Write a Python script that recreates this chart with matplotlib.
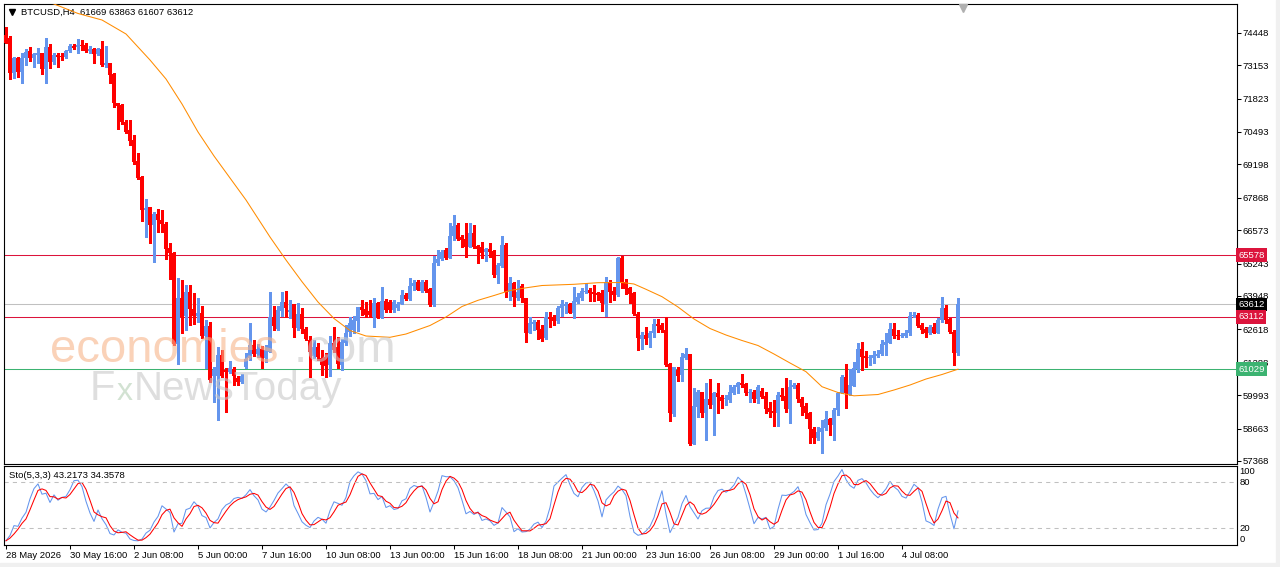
import numpy as np
import pandas as pd
import matplotlib
matplotlib.use("Agg")
import matplotlib.pyplot as plt
import matplotlib.transforms as mtrans
from matplotlib.patches import Rectangle

plt.rcParams["font.family"] = ["Liberation Sans", "DejaVu Sans"]

# BTCUSD H4 candles, 28 May 2026 00:00 .. 5 Jul 2026 16:00
opens = [74356, 74225, 72853, 73427, 72893, 73427, 73718, 73451, 73559, 73626,
         73000, 73866, 73291, 73559, 73531, 73491, 73730, 73918, 73890, 73957,
         73957, 73730, 73798, 73587, 73798, 73160, 73228, 72789, 71632, 71565,
         70899, 70568, 70169, 69331, 68705, 67377, 67485, 66779, 67218, 66978,
         66819, 65850, 65674, 62033, 63880, 63150, 64095, 63429, 63150, 63270,
         62352, 62751, 60757, 60757, 61595, 60996, 60928, 61024, 60689, 60530,
         61116, 61475, 61993, 61634, 61834, 61475, 61726, 63110, 62632, 63349,
         63708, 63309, 63628, 62671, 63230, 62632, 62193, 61555, 61913, 61475,
         61515, 61196, 62073, 61913, 61196, 62073, 62512, 62592, 62950, 63489,
         63429, 63361, 63122, 63656, 63058, 63760, 63708, 63389, 63469, 63628,
         63987, 63828, 64346, 64505, 64159, 64518, 64215, 63589, 65252, 65411,
         65782, 65451, 66340, 66779, 66289, 66209, 65914, 66448, 65942, 65914,
         65690, 65822, 65754, 64785, 65156, 65981, 64119, 64454, 63856, 64346,
         63856, 62484, 62831, 62923, 62620, 62261, 63122, 63110, 62962, 63457,
         63549, 63628, 63282, 63720, 63856, 64119, 64187, 64119, 64055, 64079,
         63628, 64518, 64159, 63987, 65475, 64518, 64255, 64079, 63218, 62233,
         62392, 62261, 62484, 62831, 62791, 62592, 61236, 59242, 60996, 60797,
         61463, 61634, 58045, 59533, 60131, 59294, 59828, 59601, 60091, 59932,
         59828, 59800, 60091, 60307, 60490, 60438, 60091, 60131, 59828, 60171,
         59960, 59469, 59373, 59294, 60000, 59960, 59441, 60307, 60398, 59828,
         59561, 59294, 58631, 58272, 58536, 58671, 59030, 58803, 59401, 60067,
         60705, 60039, 60358, 61024, 61822, 61555, 61463, 61463, 61555, 61634,
         61993, 62085, 62620, 62392, 62352, 62352, 62460, 63150, 63190, 62791,
         62620, 62484, 62699, 62484, 62990, 63457, 63018, 62524, 61669]
highs = [74663, 74316, 73491, 73491, 73626, 73786, 73866, 73626, 73826, 73638,
         74225, 73997, 73626, 73650, 73650, 73758, 73997, 73997, 74185, 74157,
         74025, 73918, 73826, 73826, 74117, 73918, 73252, 72829, 71632, 71604,
         70966, 70966, 70368, 69638, 68733, 67816, 67509, 67285, 67405, 67377,
         66911, 66073, 65714, 64677, 64586, 64386, 64386, 64055, 63856, 63549,
         62990, 62911, 61128, 61926, 61794, 61076, 61367, 61128, 60757, 60837,
         61674, 62871, 62193, 62033, 61954, 61993, 64119, 63549, 63549, 64107,
         64147, 63788, 63628, 63668, 63469, 62711, 62352, 62193, 62073, 61794,
         61674, 62352, 62711, 62313, 62233, 62791, 63110, 63150, 63521, 63788,
         63708, 63788, 63856, 63720, 64318, 63828, 63788, 63788, 63720, 64187,
         64067, 64653, 64586, 64586, 64586, 64586, 64255, 65543, 65782, 65782,
         65874, 66847, 67178, 66847, 66380, 66847, 66847, 66779, 65981, 66113,
         65874, 66061, 65782, 65276, 66340, 66049, 64717, 64518, 64586, 64426,
         63856, 63122, 62990, 62990, 62791, 63321, 63321, 63190, 63549, 63788,
         63720, 63680, 64294, 64055, 64255, 64454, 64255, 64386, 64119, 64187,
         64717, 64586, 64294, 65515, 65543, 64613, 64318, 64119, 63321, 62524,
         62723, 62563, 63018, 63018, 62883, 63098, 61264, 61128, 61104, 61686,
         61862, 61634, 60266, 60199, 60131, 60490, 60625, 60131, 60490, 60000,
         60000, 60398, 60398, 60530, 60825, 60490, 60227, 60199, 60398, 60266,
         60131, 59732, 59800, 60131, 60266, 60665, 60598, 60466, 60466, 59932,
         59668, 59334, 58735, 58735, 59002, 59373, 59070, 59469, 60131, 60797,
         61236, 61024, 61328, 62061, 62125, 61766, 61595, 61766, 61794, 62193,
         62460, 62859, 62859, 62592, 62460, 62592, 63321, 63321, 63257, 62883,
         62723, 62791, 62859, 63058, 63920, 63589, 63058, 62592, 63863]
lows = [74025, 72590, 72629, 72669, 72454, 73160, 73331, 73068, 73252, 72789,
        72430, 73052, 73188, 73092, 73359, 73451, 73690, 73786, 73650, 73758,
        73666, 73626, 73252, 73559, 73120, 73092, 72454, 71473, 70595, 70807,
        70436, 69969, 69212, 68625, 66950, 66312, 66073, 65315, 66512, 66512,
        65423, 64625, 61993, 61236, 62472, 62592, 62791, 62831, 62923, 62273,
        61076, 60518, 59732, 59002, 60717, 59333, 60865, 60398, 60398, 60478,
        61076, 61395, 61555, 61515, 61076, 61315, 61714, 62592, 62592, 63150,
        63122, 63070, 62325, 62592, 62472, 62193, 60729, 61475, 61395, 60797,
        60717, 60757, 61714, 61076, 60996, 61993, 62352, 62472, 62552, 63190,
        63110, 63122, 62723, 63058, 63058, 63321, 63309, 63309, 63389, 63616,
        63788, 63788, 64187, 64187, 64119, 64119, 63549, 63549, 65184, 65383,
        65411, 65451, 66181, 66181, 65914, 65515, 65914, 65850, 65252, 65451,
        65355, 65515, 64717, 64454, 65116, 63920, 63788, 63549, 63788, 63708,
        62125, 62460, 62592, 62221, 62165, 62221, 62723, 62791, 62883, 63150,
        63282, 63257, 63058, 63680, 63788, 64079, 63760, 63760, 63788, 63361,
        63150, 63720, 63788, 63948, 64255, 64027, 63656, 63190, 61794, 61822,
        62033, 61926, 62301, 62524, 62524, 61156, 58975, 59162, 60570, 60570,
        61423, 58005, 58045, 59110, 59110, 58205, 59469, 58404, 59270, 59469,
        59601, 59732, 60039, 60091, 60330, 60000, 59732, 59732, 59692, 59868,
        59270, 59134, 58763, 58763, 59800, 59333, 58871, 60266, 59732, 59202,
        59070, 58073, 58073, 58205, 57674, 58604, 58404, 58205, 59202, 60067,
        59469, 59999, 60358, 60928, 60996, 61128, 61196, 61288, 61527, 61595,
        61595, 62061, 62261, 62221, 62325, 62301, 62392, 63122, 62723, 62460,
        62325, 62432, 62460, 62460, 62923, 62883, 62484, 61196, 61607]
closes = [74049, 72853, 73427, 72893, 73427, 73690, 73451, 73587, 73626, 73000,
          73866, 73291, 73559, 73491, 73491, 73730, 73918, 73850, 73957, 73929,
          73730, 73798, 73587, 73798, 73160, 73228, 72761, 71632, 71537, 70899,
          70500, 70141, 69303, 68665, 67377, 67445, 66779, 67218, 66978, 66807,
          65822, 65651, 62033, 63880, 63122, 64095, 63429, 63150, 63282, 62352,
          62751, 60598, 60996, 61595, 60757, 60928, 61064, 60757, 60530, 60757,
          61455, 61993, 61634, 61834, 61475, 61794, 63122, 62751, 63389, 63708,
          63457, 63389, 62671, 63230, 62632, 62233, 61714, 61913, 61515, 61196,
          61156, 62073, 61794, 61236, 62113, 62472, 62871, 62990, 63489, 63389,
          63190, 63190, 63656, 63058, 63760, 63389, 63389, 63708, 63628, 63987,
          63828, 64346, 64478, 64187, 64518, 64159, 63589, 65252, 65411, 65714,
          65451, 66340, 66739, 66209, 66181, 65914, 66448, 65914, 65822, 65651,
          65822, 65690, 64785, 65184, 65981, 64119, 64454, 63896, 64119, 63856,
          62484, 62883, 62923, 62592, 62221, 63122, 63018, 62962, 63481, 63616,
          63628, 63282, 63760, 63920, 64159, 64159, 64079, 64027, 63987, 63680,
          64518, 64119, 63987, 65475, 64454, 64215, 64027, 63218, 62261, 62392,
          62233, 62484, 62831, 62751, 62592, 61196, 59294, 61104, 60757, 61527,
          61634, 58045, 59561, 60131, 59294, 59828, 59601, 60091, 59908, 59772,
          59868, 60131, 60307, 60490, 60398, 60091, 60131, 59828, 60330, 59932,
          59441, 59334, 59294, 60000, 59932, 59441, 60330, 60398, 59828, 59533,
          59270, 58631, 58272, 58536, 58671, 59030, 58803, 59401, 60067, 60705,
          60067, 60398, 61064, 61822, 61503, 61463, 61503, 61595, 61634, 62033,
          62125, 62620, 62352, 62352, 62392, 62484, 63150, 63190, 62751, 62592,
          62484, 62699, 62484, 62990, 63457, 62990, 62524, 61669, 63612]

# moving average (bar index, value)
ma_idx = [0, 12, 18, 24, 30, 36, 40, 44, 48, 52, 56, 60, 66, 70, 74, 78, 82,
          86, 90, 96, 100, 106, 110, 114, 118, 122, 126, 130, 134, 142, 148,
          154, 157, 160, 164, 168, 172, 176, 180, 184, 188, 192, 196, 200,
          204, 208, 212, 218, 222, 226, 230, 234, 238]
ma_val = [76191, 75592, 75214, 74954, 74396, 73359, 72601, 71604, 70488, 69531,
          68653, 67776, 66300, 65383, 64518, 63708, 63050, 62571, 62352, 62301,
          62432, 62771, 63110, 63529, 63776, 63967, 64167, 64274, 64366, 64414,
          64478, 64486, 64426, 64215, 63920, 63509, 63030, 62651, 62392, 62173,
          61973, 61634, 61276, 60929, 60330, 60099, 59967, 60019, 60199, 60398,
          60637, 60817, 61029]

price_ticks = [74448, 73153, 71823, 70493, 69198, 67868, 66573, 65243,
               63948, 62618, 61288, 59993, 58663, 57368]
hlines = [(65578, "#DC143C"), (63612, "#C0C0C0"), (63112, "#DC143C"), (61029, "#3CB371")]
tags = [(65578, "#DC143C"), (63612, "#000000"), (63112, "#DC143C"), (61029, "#3CB371")]

date_idx = [0, 16, 32, 48, 64, 80, 96, 112, 128, 144, 160, 176, 192, 208, 224]
date_labels = ["28 May 2026", "30 May 16:00", "2 Jun 08:00", "5 Jun 00:00",
               "7 Jun 16:00", "10 Jun 08:00", "13 Jun 00:00", "15 Jun 16:00",
               "18 Jun 08:00", "21 Jun 00:00", "23 Jun 16:00", "26 Jun 08:00",
               "29 Jun 00:00", "1 Jul 16:00", "4 Jul 08:00"]

BULL = "#6495ED"
BEAR = "#FF0000"
FS = 6.8
W, H = 1280, 567


def box(l, t, r, b):
    return [l / W, 1 - b / H, (r - l) / W, (b - t) / H]


fig = plt.figure(figsize=(W / 100, H / 100), dpi=100)
fig.patches.append(Rectangle((1276 / W, 0), 4 / W, 1, transform=fig.transFigure,
                             color="#F0F0F0", zorder=0))
fig.patches.append(Rectangle((0, 0), 1, 4 / H, transform=fig.transFigure,
                             color="#F0F0F0", zorder=0))

ax = fig.add_axes(box(4, 4, 1237, 464))
ax2 = fig.add_axes(box(4, 466, 1237, 545))

o = np.array(opens, float)
h = np.array(highs, float)
l = np.array(lows, float)
c = np.array(closes, float)
x = np.arange(len(o))
up = c >= o
cols = np.where(up, BULL, BEAR)

ax.vlines(x, l, h, colors=cols, lw=0.75, zorder=2, antialiased=False)
body_lo = np.minimum(o, c)
body_h = np.maximum(np.abs(c - o), 30)
ax.bar(x, body_h, bottom=body_lo, width=0.76, color=cols, lw=0, zorder=3,
       antialiased=False)

ax.plot(ma_idx, ma_val, color="#FF8C00", lw=0.75, zorder=4)

for val, col in hlines:
    ax.axhline(val, color=col, lw=0.75, zorder=1)

ax.set_xlim(-0.5, 307.75)
ax.set_ylim(57248, 75592)
ax.set_xticks([])
ax.yaxis.tick_right()
ax.set_yticks(price_ticks)
ax.set_yticklabels([str(v) for v in price_ticks])
ax.tick_params(axis="y", direction="out", length=3, width=0.75, pad=1.2,
               labelsize=FS, colors="black")

trans = mtrans.blended_transform_factory(ax.transAxes, ax.transData)
for val, col in tags:
    ax.text(1.0012, val, str(val), transform=trans, ha="left", va="center",
            fontsize=FS, color="white", zorder=10, clip_on=False,
            bbox=dict(boxstyle="square,pad=0.25", fc=col, ec="none"))

ax.plot([0.0065], [0.9826], marker="v", ms=4, color="black",
        transform=ax.transAxes, clip_on=False)
ax.text(0.0135, 0.9826, "BTCUSD,H4  61669 63863 61607 63612", transform=ax.transAxes,
        ha="left", va="center", fontsize=FS, color="black")
ax.plot([239.25], [75450], marker="v", ms=6, color="#B0B0B0", clip_on=False, zorder=6)

# watermark
fig.text(50 / W, 1 - 362 / H, "economies", fontsize=34, color="#F7B48A", alpha=0.6,
         ha="left", va="baseline", zorder=20)
fig.text(294 / W, 1 - 362 / H, ".com", fontsize=34, color="#C8C8C8", alpha=0.6,
         ha="left", va="baseline", zorder=20)
fig.text(90 / W, 1 - 400 / H, "F", fontsize=30, color="#C8C8C8", alpha=0.6,
         ha="left", va="baseline", zorder=20)
fig.text(117 / W, 1 - 400 / H, "x", fontsize=23, color="#B5CFB5", alpha=0.6,
         ha="left", va="baseline", zorder=20)
fig.text(134 / W, 1 - 400 / H, "NewsToday", fontsize=29, color="#C8C8C8", alpha=0.6,
         ha="left", va="baseline", zorder=20)

# Stochastic (5,3,3)
hs, ls, cs = pd.Series(h), pd.Series(l), pd.Series(c)
hh = hs.rolling(5, min_periods=1).max()
ll = ls.rolling(5, min_periods=1).min()
num = (cs - ll).rolling(3, min_periods=1).sum()
den = (hh - ll).rolling(3, min_periods=1).sum()
k_line = 100 * num / den
d_line = k_line.rolling(3, min_periods=1).mean()

ax2.plot(x, k_line, color=BULL, lw=0.75)
ax2.plot(x, d_line, color=BEAR, lw=0.75)
for lev in (20, 80):
    ax2.axhline(lev, color="#C0C0C0", lw=0.75, ls=(0, (4, 4)))
ax2.set_xlim(-0.5, 307.75)
ax2.set_ylim(-1.8, 101.3)
ax2.set_yticks([])
ax2.set_xticks(date_idx)
ax2.set_xticklabels(date_labels, ha="left")
ax2.tick_params(axis="x", direction="out", length=3, width=0.75, pad=1,
                labelsize=FS, colors="black")

ytr = mtrans.blended_transform_factory(ax2.transAxes, ax2.transData)
ax2.text(1.002, 100, "100", transform=ytr, ha="left", va="top", fontsize=FS)
ax2.text(1.002, 80, "80", transform=ytr, ha="left", va="center", fontsize=FS)
ax2.text(1.002, 20, "20", transform=ytr, ha="left", va="center", fontsize=FS)
ax2.text(1.002, 0, "0", transform=ytr, ha="left", va="bottom", fontsize=FS)
ax2.text(0.004, 0.877, "Sto(5,3,3) 43.2173 34.3578", transform=ax2.transAxes,
         ha="left", va="center", fontsize=FS)

for a in (ax, ax2):
    for s in a.spines.values():
        s.set_linewidth(0.8)
        s.set_color("black")

fig.savefig("out.png", dpi=100, facecolor="white")
